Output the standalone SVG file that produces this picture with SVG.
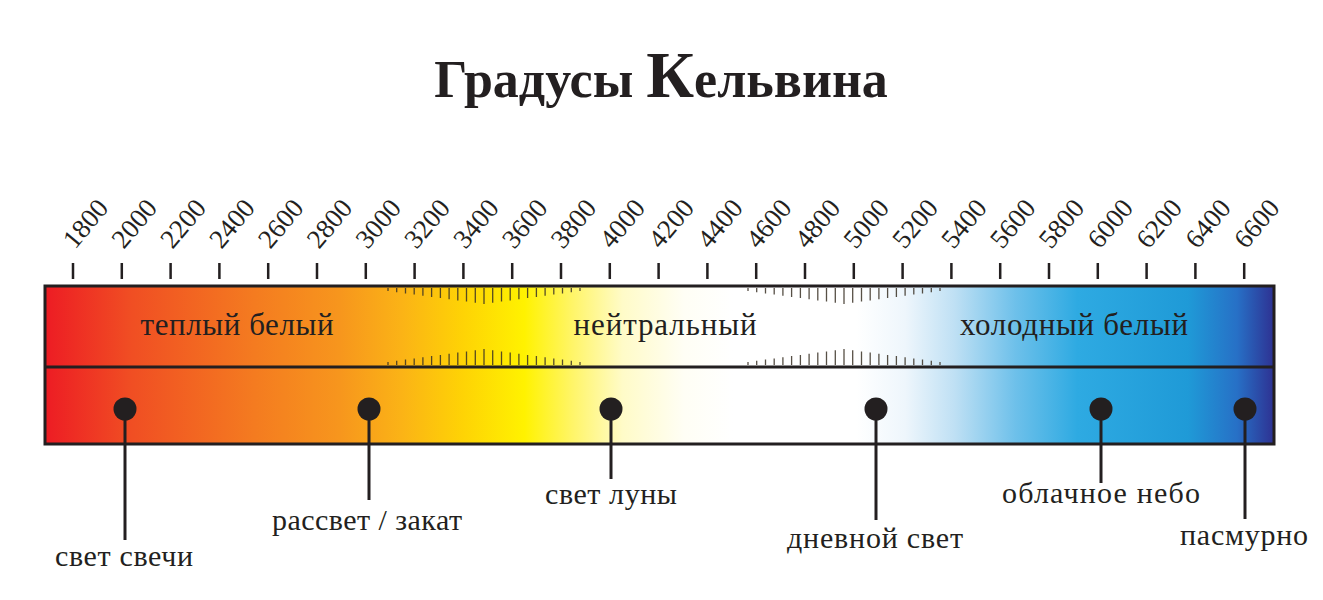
<svg xmlns="http://www.w3.org/2000/svg" xmlns:xlink="http://www.w3.org/1999/xlink" width="1323" height="600" viewBox="0 0 1323 600">
<defs>
<linearGradient id="spec" x1="45" y1="0" x2="1274" y2="0" gradientUnits="userSpaceOnUse">
<stop offset="0" stop-color="#ed1c24"/>
<stop offset="0.07" stop-color="#f04e23"/>
<stop offset="0.17" stop-color="#f47b20"/>
<stop offset="0.24" stop-color="#f7961d"/>
<stop offset="0.29" stop-color="#fbb316"/>
<stop offset="0.34" stop-color="#fed305"/>
<stop offset="0.39" stop-color="#fff200"/>
<stop offset="0.43" stop-color="#fff56a"/>
<stop offset="0.47" stop-color="#fffbc8"/>
<stop offset="0.52" stop-color="#fffef5"/>
<stop offset="0.56" stop-color="#ffffff"/>
<stop offset="0.66" stop-color="#ffffff"/>
<stop offset="0.70" stop-color="#eef6fc"/>
<stop offset="0.74" stop-color="#bfe0f4"/>
<stop offset="0.79" stop-color="#6dc0ea"/>
<stop offset="0.84" stop-color="#2eaae2"/>
<stop offset="0.93" stop-color="#1f9ad7"/>
<stop offset="0.97" stop-color="#2770c6"/>
<stop offset="1" stop-color="#2e3192"/>
</linearGradient>
</defs>
<style>
.t{font-family:"Liberation Serif","Times New Roman",serif;fill:#231f20}
.num{font-size:27px}
.band{font-size:31px}
.lab{font-size:30px}
.tick{stroke:#231f20;stroke-width:2.5}
.hatch{stroke:#3a3226;stroke-width:1.3;fill:none;opacity:0.85}
.lead{stroke:#231f20;stroke-width:3}
.dot{fill:#231f20}
</style>

<g id="title">
<text class="t" x="661" y="97" text-anchor="middle" font-weight="bold" font-size="52">Градусы <tspan font-size="66">К</tspan>ельвина</text>
</g>

<g id="scale">
<g class="tick">
<path d="M73 263V279M121.8 263V279M170.6 263V279M219.4 263V279M268.2 263V279M317 263V279M365.8 263V279M414.6 263V279M463.4 263V279M512.2 263V279M561 263V279M609.8 263V279M658.6 263V279M707.4 263V279M756.2 263V279M805 263V279M853.8 263V279M902.6 263V279M951.4 263V279M1000.2 263V279M1049 263V279M1097.8 263V279M1146.6 263V279M1195.4 263V279M1244.2 263V279"/>
</g>
<g class="t num">
<text transform="translate(75,250) rotate(-50)">1800</text>
<text transform="translate(123.8,250) rotate(-50)">2000</text>
<text transform="translate(172.6,250) rotate(-50)">2200</text>
<text transform="translate(221.4,250) rotate(-50)">2400</text>
<text transform="translate(270.2,250) rotate(-50)">2600</text>
<text transform="translate(319,250) rotate(-50)">2800</text>
<text transform="translate(367.8,250) rotate(-50)">3000</text>
<text transform="translate(416.6,250) rotate(-50)">3200</text>
<text transform="translate(465.4,250) rotate(-50)">3400</text>
<text transform="translate(514.2,250) rotate(-50)">3600</text>
<text transform="translate(563,250) rotate(-50)">3800</text>
<text transform="translate(611.8,250) rotate(-50)">4000</text>
<text transform="translate(660.6,250) rotate(-50)">4200</text>
<text transform="translate(709.4,250) rotate(-50)">4400</text>
<text transform="translate(758.2,250) rotate(-50)">4600</text>
<text transform="translate(807,250) rotate(-50)">4800</text>
<text transform="translate(855.8,250) rotate(-50)">5000</text>
<text transform="translate(904.6,250) rotate(-50)">5200</text>
<text transform="translate(953.4,250) rotate(-50)">5400</text>
<text transform="translate(1002.2,250) rotate(-50)">5600</text>
<text transform="translate(1051,250) rotate(-50)">5800</text>
<text transform="translate(1099.8,250) rotate(-50)">6000</text>
<text transform="translate(1148.6,250) rotate(-50)">6200</text>
<text transform="translate(1197.4,250) rotate(-50)">6400</text>
<text transform="translate(1246.2,250) rotate(-50)">6600</text>
</g>
</g>

<g id="bar">
<rect x="45" y="286" width="1229" height="158" fill="url(#spec)"/>
<g id="hatch1" class="hatch">
<path d="M388 288v3M396.7 288v4.2M405.5 288v5.4M414.2 288v6.5M422.9 288v7.7M431.6 288v8.9M440.4 288v10.1M449.1 288v11.3M457.8 288v12.5M466.5 288v13.6M475.3 288v14.8M484 288v16M492.7 288v14.8M501.5 288v13.6M510.2 288v12.5M518.9 288v11.3M527.6 288v10.1M536.4 288v8.9M545.1 288v7.7M553.8 288v6.5M562.5 288v5.4M571.3 288v4.2M580 288v3"/>
<path d="M388 365v-3M396.7 365v-4.2M405.5 365v-5.4M414.2 365v-6.5M422.9 365v-7.7M431.6 365v-8.9M440.4 365v-10.1M449.1 365v-11.3M457.8 365v-12.5M466.5 365v-13.6M475.3 365v-14.8M484 365v-16M492.7 365v-14.8M501.5 365v-13.6M510.2 365v-12.5M518.9 365v-11.3M527.6 365v-10.1M536.4 365v-8.9M545.1 365v-7.7M553.8 365v-6.5M562.5 365v-5.4M571.3 365v-4.2M580 365v-3"/>
</g>
<use xlink:href="#hatch1" href="#hatch1" transform="translate(360,0)"/>
<rect x="45" y="286" width="1229" height="158" fill="none" stroke="#231f20" stroke-width="3"/>
<line x1="45" y1="367" x2="1274" y2="367" stroke="#231f20" stroke-width="3"/>
<g class="t band">
<text x="237" y="335" text-anchor="middle" textLength="193">теплый белый</text>
<text x="665" y="335" text-anchor="middle" textLength="183">нейтральный</text>
<text x="1074" y="335" text-anchor="middle" textLength="228">холодный белый</text>
</g>
</g>

<g id="connectors">
<line class="lead" x1="125" y1="409" x2="125" y2="540"/>
<line class="lead" x1="369" y1="409" x2="369" y2="500"/>
<line class="lead" x1="611" y1="409" x2="611" y2="479"/>
<line class="lead" x1="876" y1="409" x2="876" y2="520"/>
<line class="lead" x1="1101" y1="409" x2="1101" y2="483"/>
<line class="lead" x1="1245" y1="409" x2="1245" y2="519"/>
</g>

<g id="candle"><circle class="dot" cx="125" cy="409" r="11.5"/><text class="t lab" x="124" y="566" text-anchor="middle" textLength="138">свет свечи</text></g>
<g id="sunset"><circle class="dot" cx="369" cy="409" r="11.5"/><text class="t lab" x="367" y="530" text-anchor="middle" textLength="190">рассвет / закат</text></g>
<g id="moon"><circle class="dot" cx="611" cy="409" r="11.5"/><text class="t lab" x="611" y="504" text-anchor="middle" textLength="132">свет луны</text></g>
<g id="daylight"><circle class="dot" cx="876" cy="409" r="11.5"/><text class="t lab" x="875" y="548" text-anchor="middle" textLength="176">дневной свет</text></g>
<g id="cloudy"><circle class="dot" cx="1101" cy="409" r="11.5"/><text class="t lab" x="1101" y="503" text-anchor="middle" textLength="198">облачное небо</text></g>
<g id="overcast"><circle class="dot" cx="1245" cy="409" r="11.5"/><text class="t lab" x="1244" y="545" text-anchor="middle" textLength="128">пасмурно</text></g>
</svg>
